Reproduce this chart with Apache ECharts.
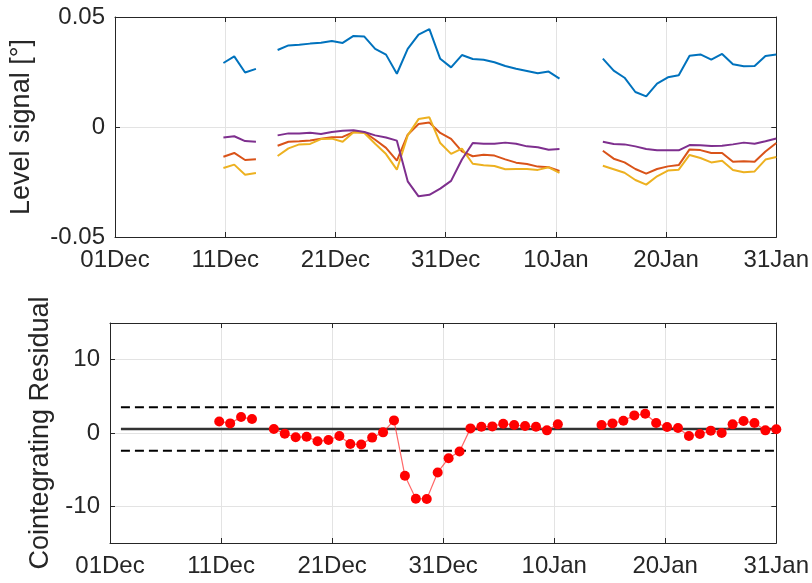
<!DOCTYPE html>
<html>
<head>
<meta charset="utf-8">
<script src="https://cdn.jsdelivr.net/npm/echarts@6/dist/echarts.min.js"></script>
<style>
html,body{margin:0;padding:0;background:#fff;}
#chart{width:812px;height:583px;}
</style>
</head>
<body>
<div id="chart"></div>
<script>
// Day index counted from 01Dec (0) to 31Jan (61)
var days = [10,11,12,13,14,15,16,17,18,19,20,21,22,23,24,25,26,27,28,29,30,31,32,33,34,35,36,37,38,39,40,41,42,43,44,45,46,47,48,49,50,51,52,53,54,55,56,57,58,59,60,61];

var xTickPos = [0, 10.17, 20.33, 30.5, 40.67, 50.83, 61];
var xTickLabels = ['01Dec','11Dec','21Dec','31Dec','10Jan','20Jan','31Jan'];
var resTicks = [-10, 0, 10];

var levelBlue = [0.0291,0.0321,0.0248,0.0264,null,0.0350,0.0371,0.0374,0.0379,0.0383,0.0391,0.0382,0.0414,0.0411,0.0355,0.0329,0.0242,0.0355,0.0420,0.0445,0.0310,0.0271,0.0327,0.0309,0.0306,0.0294,0.0277,0.0265,0.0255,0.0244,0.0252,0.0220,null,null,null,0.0311,0.0256,0.0224,0.0159,0.0139,0.0197,0.0226,0.0235,0.0324,0.0330,0.0306,0.0332,0.0285,0.0276,0.0277,0.0323,0.0330];
var levelOrange = [-0.0135,-0.0118,-0.0150,-0.0147,null,-0.0085,-0.0067,-0.0065,-0.0061,-0.0053,-0.0047,-0.0045,-0.0023,-0.0024,-0.0058,-0.0095,-0.0153,-0.0035,0.0014,0.0020,-0.0027,-0.0054,-0.0111,-0.0133,-0.0126,-0.0130,-0.0147,-0.0162,-0.0168,-0.0180,-0.0183,-0.0200,null,null,null,-0.0108,-0.0144,-0.0161,-0.0191,-0.0212,-0.0191,-0.0179,-0.0173,-0.0102,-0.0105,-0.0118,-0.0118,-0.0158,-0.0156,-0.0158,-0.0111,-0.0073];
var levelYellow = [-0.0186,-0.0171,-0.0217,-0.0209,null,-0.0132,-0.0097,-0.0079,-0.0077,-0.0055,-0.0053,-0.0067,-0.0024,-0.0027,-0.0076,-0.0123,-0.0194,-0.0038,0.0036,0.0044,-0.0073,-0.0122,-0.0098,-0.0167,-0.0174,-0.0177,-0.0192,-0.0191,-0.0191,-0.0195,-0.0183,-0.0209,null,null,null,-0.0176,-0.0192,-0.0208,-0.0241,-0.0262,-0.0224,-0.0198,-0.0194,-0.0127,-0.0141,-0.0161,-0.0153,-0.0195,-0.0206,-0.0202,-0.0148,-0.0136];
var levelPurple = [-0.0048,-0.0042,-0.0064,-0.0067,null,-0.0038,-0.0029,-0.0029,-0.0026,-0.0032,-0.0023,-0.0017,-0.0015,-0.0023,-0.0038,-0.0048,-0.0062,-0.0247,-0.0315,-0.0308,-0.0280,-0.0245,-0.0148,-0.0073,-0.0076,-0.0076,-0.0071,-0.0076,-0.0088,-0.0092,-0.0103,-0.0100,null,null,null,-0.0067,-0.0077,-0.0079,-0.0088,-0.0100,-0.0106,-0.0106,-0.0106,-0.0082,-0.0083,-0.0086,-0.0085,-0.0079,-0.0071,-0.0076,-0.0065,-0.0052];

var residual = [1.58,1.31,2.17,1.90,null,0.54,-0.09,-0.59,-0.50,-1.13,-0.95,-0.41,-1.49,-1.58,-0.63,0.09,1.72,-5.84,-8.96,-9.00,-5.38,-3.44,-2.53,0.63,0.86,0.90,1.27,1.09,0.95,0.86,0.36,1.18,null,null,null,1.09,1.31,1.67,2.40,2.62,1.36,0.81,0.68,-0.41,-0.14,0.32,0.00,1.18,1.63,1.36,0.36,0.50];

var resMean = 0.54;
var resUpper = 3.50;
var resLower = -2.42;
var resLineSpan = [1, 61];

function pairs(xs, ys){ return xs.map(function(x,i){ return [x, ys[i]]; }); }

var FONT = "'Liberation Sans', Arial, Helvetica, sans-serif";
var TXT = '#262626';
var AX = '#262626';
var GRIDC = '#e3e3e3';
var TICKFS = 24;
var NAMEFS = 27;

function xAxisMain(gi){
  return {
    type:'value', gridIndex:gi, min:0, max:61, position:'bottom',
    axisLine:{show:true, onZero:false, lineStyle:{color:AX, width:1}},
    axisTick:{show:true, inside:true, length:5, customValues:xTickPos, lineStyle:{color:AX}},
    axisLabel:{show:true, customValues:xTickPos, margin:11, color:TXT, fontFamily:FONT, fontSize:TICKFS,
      formatter:function(v){ var i = xTickPos.indexOf(v); return i>=0 ? xTickLabels[i] : ''; }},
    splitLine:{show:true, lineStyle:{color:GRIDC, width:1}}
  };
}
function xAxisTop(gi){
  return {
    type:'value', gridIndex:gi, min:0, max:61, position:'top',
    axisLine:{show:true, onZero:false, lineStyle:{color:AX, width:1}},
    axisTick:{show:true, inside:true, length:5, customValues:xTickPos, lineStyle:{color:AX}},
    axisLabel:{show:false}, splitLine:{show:false}
  };
}

var option = {
  animation:false,
  backgroundColor:'#fff',
  grid:[
    {left:110, top:17, width:667, height:220},
    {left:110, top:323, width:667, height:220}
  ],
  xAxis:[ xAxisMain(0), xAxisTop(0), xAxisMain(1), xAxisTop(1) ],
  yAxis:[
    { type:'value', gridIndex:0, min:-0.05, max:0.05, interval:0.05, position:'left',
      name:'Level signal [°]', nameLocation:'middle', nameGap:80,
      nameTextStyle:{color:TXT, fontFamily:FONT, fontSize:NAMEFS},
      axisLine:{show:true, onZero:false, lineStyle:{color:AX}},
      axisTick:{show:true, inside:true, length:5, lineStyle:{color:AX}},
      axisLabel:{color:TXT, fontFamily:FONT, fontSize:TICKFS, margin:10},
      splitLine:{show:true, lineStyle:{color:GRIDC}} },
    { type:'value', gridIndex:0, min:-0.05, max:0.05, interval:0.05, position:'right',
      axisLine:{show:true, onZero:false, lineStyle:{color:AX}},
      axisTick:{show:true, inside:true, length:5, lineStyle:{color:AX}},
      axisLabel:{show:false}, splitLine:{show:false} },
    { type:'value', gridIndex:1, min:-15, max:15, position:'left',
      name:'Cointegrating Residual', nameLocation:'middle', nameGap:56,
      nameTextStyle:{color:TXT, fontFamily:FONT, fontSize:NAMEFS},
      axisLine:{show:true, onZero:false, lineStyle:{color:AX}},
      axisTick:{show:true, inside:true, length:5, customValues:resTicks, lineStyle:{color:AX}},
      axisLabel:{customValues:resTicks, color:TXT, fontFamily:FONT, fontSize:TICKFS, margin:10},
      splitLine:{show:true, lineStyle:{color:GRIDC}} },
    { type:'value', gridIndex:1, min:-15, max:15, position:'right',
      axisLine:{show:true, onZero:false, lineStyle:{color:AX}},
      axisTick:{show:true, inside:true, length:5, customValues:resTicks, lineStyle:{color:AX}},
      axisLabel:{show:false}, splitLine:{show:false} }
  ],
  series:[
    {type:'line', xAxisIndex:0, yAxisIndex:0, data:pairs(days, levelBlue), showSymbol:false, lineStyle:{color:'#0072BD', width:2}},
    {type:'line', xAxisIndex:0, yAxisIndex:0, data:pairs(days, levelOrange), showSymbol:false, lineStyle:{color:'#D95319', width:2}},
    {type:'line', xAxisIndex:0, yAxisIndex:0, data:pairs(days, levelYellow), showSymbol:false, lineStyle:{color:'#EDB120', width:2}},
    {type:'line', xAxisIndex:0, yAxisIndex:0, data:pairs(days, levelPurple), showSymbol:false, lineStyle:{color:'#7E2F8E', width:2}},
    {type:'line', xAxisIndex:2, yAxisIndex:2, data:[[resLineSpan[0], resMean],[resLineSpan[1], resMean]], showSymbol:false, lineStyle:{color:'#333', width:2.5}, z:1},
    {type:'line', xAxisIndex:2, yAxisIndex:2, data:[[resLineSpan[0], resUpper],[resLineSpan[1], resUpper]], showSymbol:false, lineStyle:{color:'#000', width:2, type:[9,5]}, z:1},
    {type:'line', xAxisIndex:2, yAxisIndex:2, data:[[resLineSpan[0], resLower],[resLineSpan[1], resLower]], showSymbol:false, lineStyle:{color:'#000', width:2, type:[9,5]}, z:1},
    {type:'line', xAxisIndex:2, yAxisIndex:2, data:pairs(days, residual), symbol:'circle', symbolSize:10, showSymbol:true,
      itemStyle:{color:'#ff0000'}, lineStyle:{color:'rgba(255,40,40,0.7)', width:1.2}, z:3}
  ]
};

var chart = echarts.init(document.getElementById('chart'), null, {renderer:'canvas'});
chart.setOption(option);
</script>
</body>
</html>
